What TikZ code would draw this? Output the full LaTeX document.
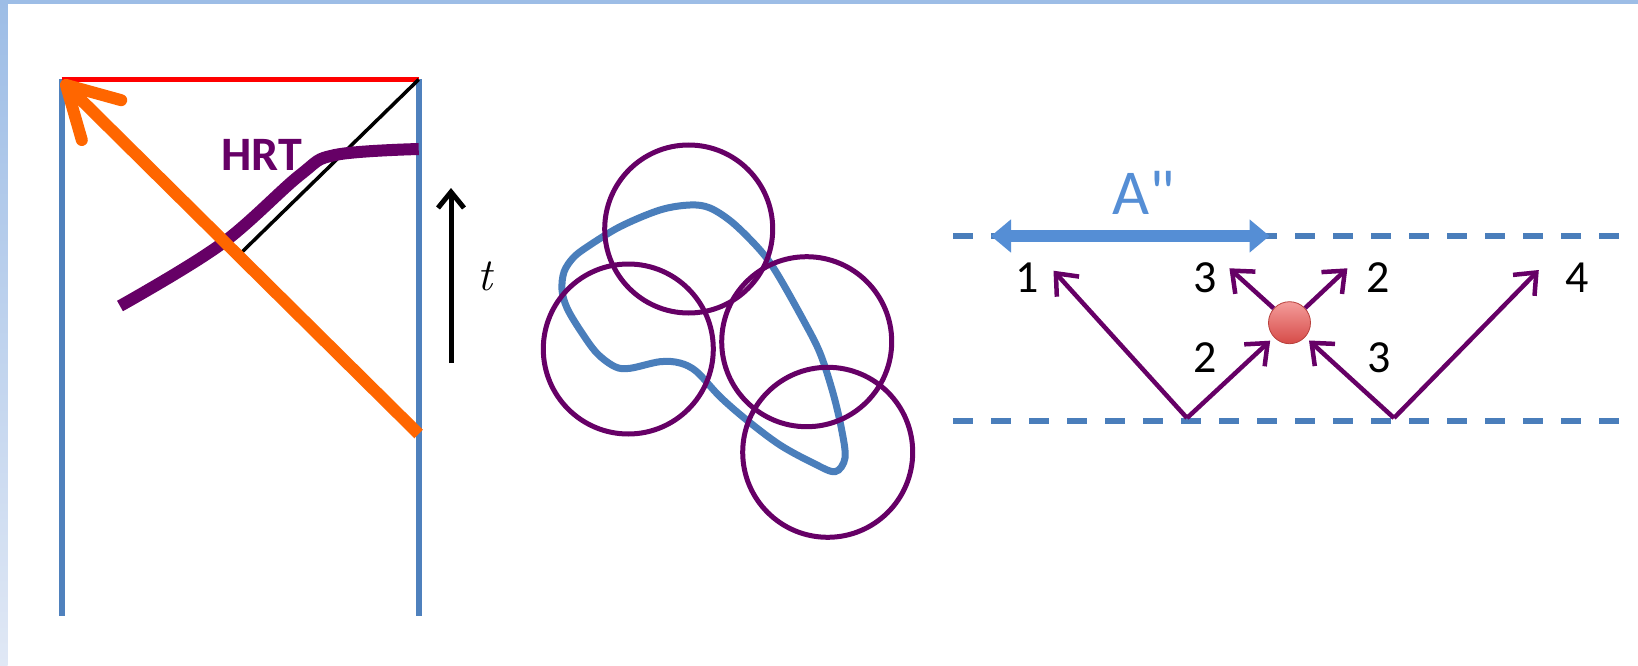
\documentclass[tikz,border=0pt]{standalone}
\usepackage{fontspec}
\newfontfamily\calibri[Ligatures=TeXOff]{Carlito}
\usetikzlibrary{arrows.meta}
\definecolor{sideblue}{HTML}{9DBDE6}
\definecolor{sidelight}{HTML}{E0E8F5}
\definecolor{edgeblue}{HTML}{4F81BD}
\definecolor{loopblue}{HTML}{4A7EBB}
\definecolor{aqblue}{HTML}{558ED5}
\definecolor{hrtpurple}{HTML}{660066}
\definecolor{rayorange}{HTML}{FF6600}
\definecolor{ballhi}{HTML}{F49C9A}
\definecolor{balllo}{HTML}{D64B48}
\definecolor{balledge}{HTML}{B8403C}
\tikzset{
  bdry line/.style={
    edgeblue, line width=6pt
  },
  ray arrow/.style={
    rayorange, line width=12pt,
    -{Straight Barb[round, length=50pt, width=56pt]}
  },
  hrt curve/.style={
    hrtpurple, line width=12pt
  },
  bulk circle/.style={
    hrtpurple, line width=5pt
  },
  quasi arrow/.style={
    hrtpurple, line width=4.5pt,
    -{Straight Barb[length=18pt, width=30pt]}
  },
  cut line/.style={
    loopblue, line width=6pt, dash pattern=on 20pt off 18pt
  },
  digit/.style={
    font=\calibri\fontsize{46}{46}\selectfont, inner sep=0pt
  }
}

\begin{document}
\begin{tikzpicture}[x=1pt, y=-1pt]
\useasboundingbox (0,0) rectangle (1638,666);
\fill[white] (0,0) rectangle (1638,666);
\fill[sideblue] (0,0) rectangle (1638,4);
\shade[top color=sideblue, bottom color=sidelight] (0,0) rectangle (7.5,666);

% ====== PANEL 1: strip with HRT surface ======
\coordinate (lt) at (61.7,79.5);
\coordinate (lb) at (61.7,616);
\coordinate (rt) at (418.7,79.5);
\coordinate (rb) at (418.7,616);
\draw[bdry line] (lt) -- (lb);
\draw[bdry line] (rt) -- (rb);
\draw[red, line width=5pt] (lt) -- (rt);

% -- light ray and HRT curve --
\coordinate (lightend) at (242,252);
\draw[black, line width=3.5pt] (rt) -- (lightend);
\draw[hrt curve] plot[smooth, tension=0.6] coordinates
  {(120,306) (220,245) (300,175) (335,155) (418.7,149)};
\coordinate (raystart) at (418.7,434);
\coordinate (raytip) at (61.7,80.7);
\draw[ray arrow] (raystart) -- (raytip);
\node[text=hrtpurple, font=\calibri\bfseries\fontsize{48}{48}\selectfont,
  inner sep=0pt] (hrt label) at (262,155) {HRT};

% -- time arrow --
\coordinate (tbot) at (451,363);
\coordinate (ttop) at (451,188);
\draw[black, line width=5pt, -{Straight Barb[length=16pt, width=26pt]}] (tbot) -- (ttop);
\node[font=\fontsize{46}{46}\selectfont\itshape, inner sep=0pt] (t label) at (485,276) {t};

% ====== PANEL 2: region covered by discs ======
\draw[loopblue, line width=7pt] plot[smooth cycle, tension=0.55] coordinates
  {(562,290) (564,272) (573,258) (587,247) (620,226.7) (660,210) (690,205)
   (710,208) (733,223) (760,250) (776.7,273) (803.3,320) (820,353) (833,393)
   (841.7,430) (845,458) (835,471.7) (813,463) (780,445) (746.7,420)
   (720,396.7) (696.7,371.7) (680,363) (660,361.7) (630,368.3) (615,366.7)
   (596.7,353) (580,330) (567,308)};
\draw[bulk circle] (688.7,229) circle (84);
\draw[bulk circle] (628.3,349) circle (85);
\draw[bulk circle] (806.7,341.7) circle (85);
\draw[bulk circle] (827.7,452.3) circle (85);

% ====== PANEL 3: quasiparticles between the cuts ======
\coordinate (ctl) at (953,236);
\coordinate (ctr) at (1619,236);
\coordinate (cbl) at (953,420.7);
\coordinate (cbr) at (1619,420.7);
\draw[cut line] (ctl) -- (ctr);
\draw[cut line] (cbl) -- (cbr);

\coordinate (aqleft) at (991,236);
\coordinate (aqright) at (1269.5,236);
\draw[aqblue, line width=12pt, {Triangle[length=20pt, width=32pt]}-{Triangle[length=20pt, width=32pt]}]
  (aqleft) -- (aqright);
\node[text=aqblue, font=\calibri\fontsize{64}{64}\selectfont, inner sep=0pt]
  (aq label) at (1143.7,193) {A"};

\node[circle, minimum size=42pt, inner sep=0pt, top color=ballhi, bottom color=balllo,
  draw=balledge, line width=0.8pt] (ball) at (1289.5,322.7) {};

\coordinate (v1) at (1187,418);
\coordinate (v2) at (1394,418);
\coordinate (tip1) at (1053.5,270.7);
\coordinate (tip4) at (1538.8,270);
\coordinate (tipl) at (1229.4,268.3);
\coordinate (tipr) at (1347.4,268.3);
\draw[quasi arrow] (v1) -- (tip1);
\draw[quasi arrow, shorten >=5pt] (v1) -- (ball);
\draw[quasi arrow] (v2) -- (tip4);
\draw[quasi arrow, shorten >=5pt] (v2) -- (ball);
\draw[quasi arrow] (ball) -- (tipl);
\draw[quasi arrow] (ball) -- (tipr);

\node[digit] (n1) at (1027,278) {1};
\node[digit] (n3a) at (1205,278) {3};
\node[digit] (n2a) at (1378.6,278) {2};
\node[digit] (n4) at (1577.6,278) {4};
\node[digit] (n2b) at (1205,358) {2};
\node[digit] (n3b) at (1379.4,358) {3};

\end{tikzpicture}
\end{document}
